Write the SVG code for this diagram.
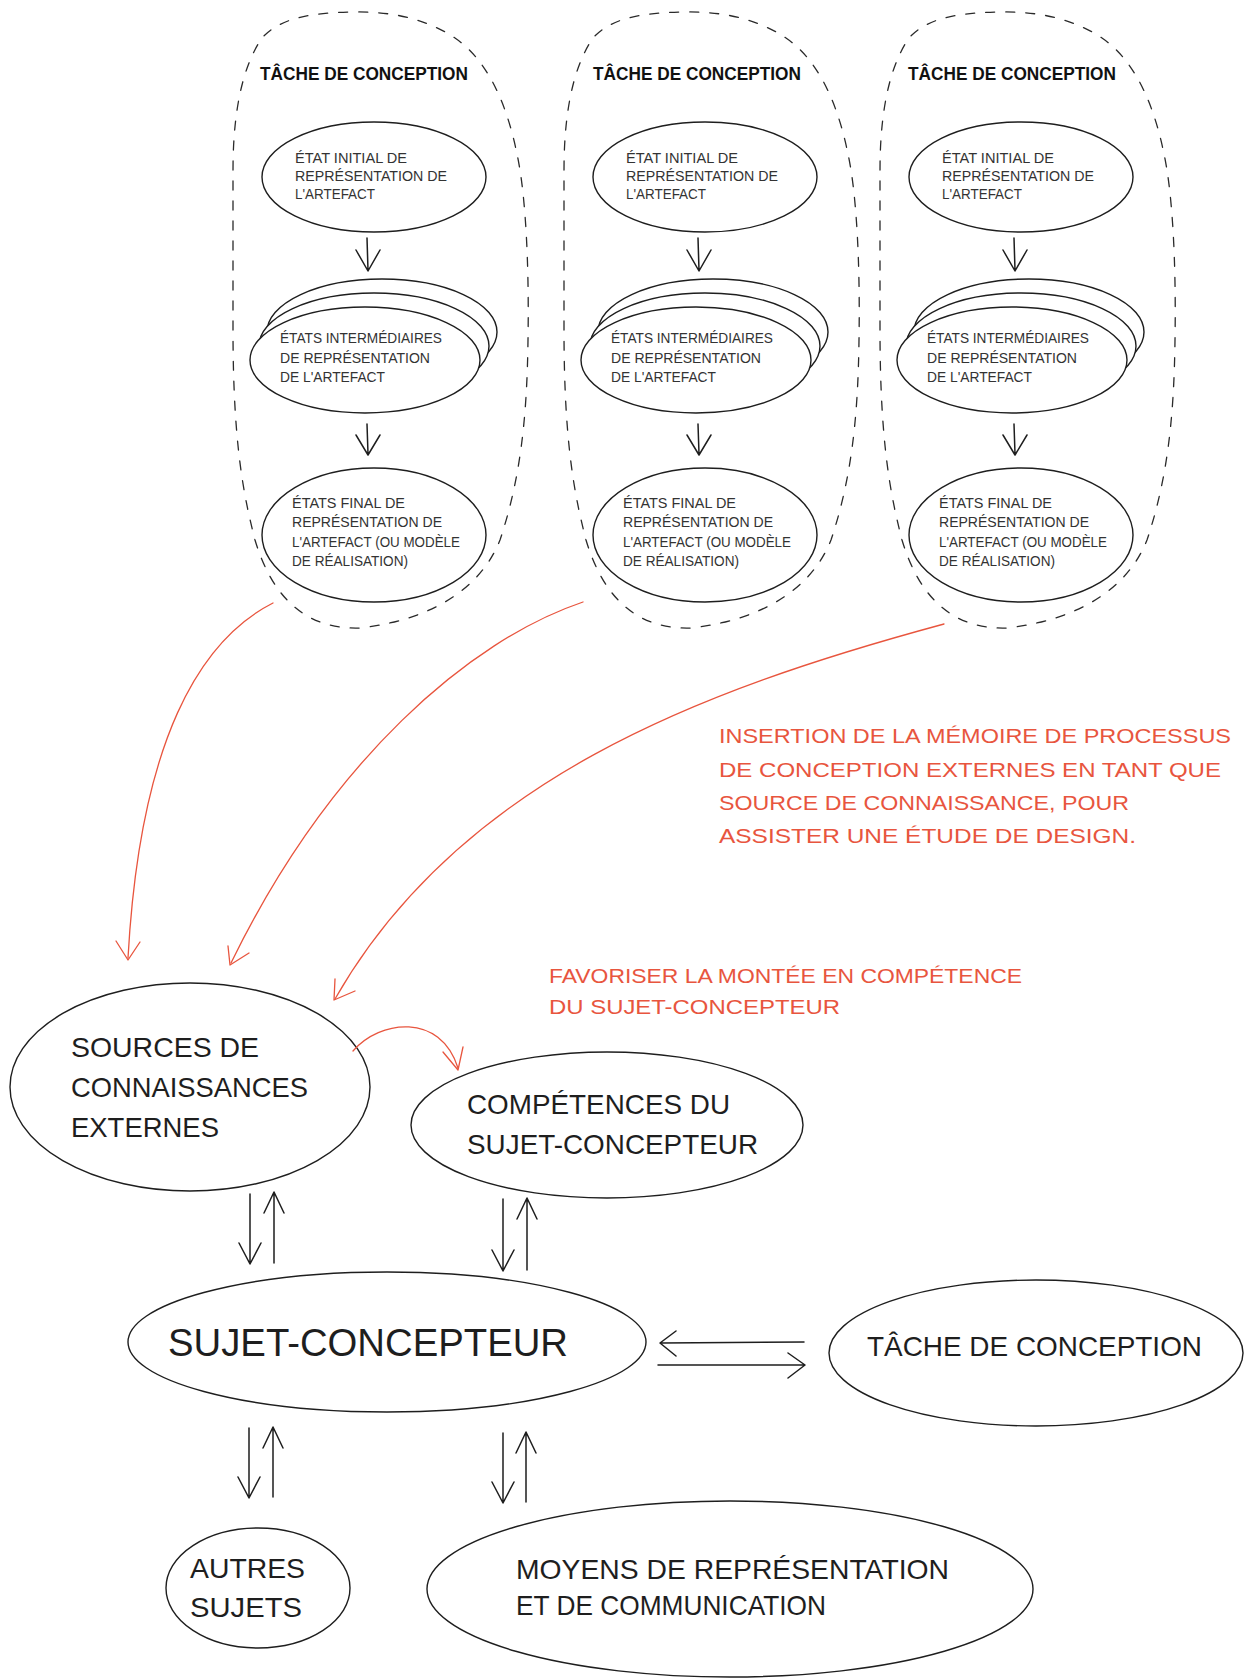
<svg xmlns="http://www.w3.org/2000/svg" width="1244" height="1679" viewBox="0 0 1244 1679">
<style>
.bg{fill:#ffffff}
.dash{fill:none;stroke:#2a2a2a;stroke-width:1.3;stroke-dasharray:9 11;stroke-linecap:round}
.nd{fill:#ffffff;stroke:#1e1e1e;stroke-width:1.4}
.sm{font-family:'Liberation Sans',Arial,sans-serif;font-size:14px;fill:#333333}
.ttl{font-family:'Liberation Sans',Arial,sans-serif;font-size:18px;font-weight:bold;fill:#111111}
.big{font-family:'Liberation Sans',Arial,sans-serif;font-size:28px;fill:#1e1e1e}
.huge{font-family:'Liberation Sans',Arial,sans-serif;font-size:38px;fill:#1e1e1e}
.rt{font-family:'Liberation Sans',Arial,sans-serif;font-size:21px;fill:#e8553e}
.ln{fill:none;stroke:#1e1e1e;stroke-width:1.5;stroke-linecap:round;stroke-linejoin:round}
.rl{fill:none;stroke:#e8553e;stroke-width:1.3;stroke-linecap:round;stroke-linejoin:round}
</style>
<rect class="bg" x="0" y="0" width="1244" height="1679"/>

<!-- Task containers -->
<g id="task1">
  <path class="dash" d="M233,330 L233,170 C233,120 240,70 262,38 C280,18 310,13 350,12 C390,11 425,18 455,38 C490,62 510,110 520,170 C527,215 529,280 528,340 C527,420 520,480 500,540 C480,590 430,620 360,628 C300,630 270,590 255,540 C245,500 233,450 233,330 Z"/>
  <text class="ttl" x="260" y="80" textLength="208" lengthAdjust="spacingAndGlyphs">TÂCHE DE CONCEPTION</text>
  <g id="task1-initial">
    <ellipse class="nd" cx="374" cy="177" rx="112" ry="55"/>
    <text class="sm" x="295" y="163" textLength="112" lengthAdjust="spacingAndGlyphs">ÉTAT INITIAL DE</text>
    <text class="sm" x="295" y="181" textLength="152" lengthAdjust="spacingAndGlyphs">REPRÉSENTATION DE</text>
    <text class="sm" x="295" y="199" textLength="80" lengthAdjust="spacingAndGlyphs">L'ARTEFACT</text>
  </g>
  <g id="task1-intermediate">
    <ellipse class="nd" cx="382" cy="332" rx="115" ry="53"/>
    <ellipse class="nd" cx="374" cy="346" rx="115" ry="53"/>
    <ellipse class="nd" cx="365" cy="360" rx="115" ry="53"/>
    <text class="sm" x="280" y="343" textLength="162" lengthAdjust="spacingAndGlyphs">ÉTATS INTERMÉDIAIRES</text>
    <text class="sm" x="280" y="363" textLength="150" lengthAdjust="spacingAndGlyphs">DE REPRÉSENTATION</text>
    <text class="sm" x="280" y="382" textLength="105" lengthAdjust="spacingAndGlyphs">DE L'ARTEFACT</text>
  </g>
  <g id="task1-final">
    <ellipse class="nd" cx="374" cy="535" rx="112" ry="67"/>
    <text class="sm" x="292" y="508" textLength="113" lengthAdjust="spacingAndGlyphs">ÉTATS FINAL DE</text>
    <text class="sm" x="292" y="527" textLength="150" lengthAdjust="spacingAndGlyphs">REPRÉSENTATION DE</text>
    <text class="sm" x="292" y="547" textLength="168" lengthAdjust="spacingAndGlyphs">L'ARTEFACT (OU MODÈLE</text>
    <text class="sm" x="292" y="566" textLength="116" lengthAdjust="spacingAndGlyphs">DE RÉALISATION)</text>
  </g>
</g>

<g id="task2" transform="translate(331,0)">
  <path class="dash" d="M233,330 L233,170 C233,120 240,70 262,38 C280,18 310,13 350,12 C390,11 425,18 455,38 C490,62 510,110 520,170 C527,215 529,280 528,340 C527,420 520,480 500,540 C480,590 430,620 360,628 C300,630 270,590 255,540 C245,500 233,450 233,330 Z"/>
  <text class="ttl" x="262" y="80" textLength="208" lengthAdjust="spacingAndGlyphs">TÂCHE DE CONCEPTION</text>
  <g id="task2-initial">
    <ellipse class="nd" cx="374" cy="177" rx="112" ry="55"/>
    <text class="sm" x="295" y="163" textLength="112" lengthAdjust="spacingAndGlyphs">ÉTAT INITIAL DE</text>
    <text class="sm" x="295" y="181" textLength="152" lengthAdjust="spacingAndGlyphs">REPRÉSENTATION DE</text>
    <text class="sm" x="295" y="199" textLength="80" lengthAdjust="spacingAndGlyphs">L'ARTEFACT</text>
  </g>
  <g id="task2-intermediate">
    <ellipse class="nd" cx="382" cy="332" rx="115" ry="53"/>
    <ellipse class="nd" cx="374" cy="346" rx="115" ry="53"/>
    <ellipse class="nd" cx="365" cy="360" rx="115" ry="53"/>
    <text class="sm" x="280" y="343" textLength="162" lengthAdjust="spacingAndGlyphs">ÉTATS INTERMÉDIAIRES</text>
    <text class="sm" x="280" y="363" textLength="150" lengthAdjust="spacingAndGlyphs">DE REPRÉSENTATION</text>
    <text class="sm" x="280" y="382" textLength="105" lengthAdjust="spacingAndGlyphs">DE L'ARTEFACT</text>
  </g>
  <g id="task2-final">
    <ellipse class="nd" cx="374" cy="535" rx="112" ry="67"/>
    <text class="sm" x="292" y="508" textLength="113" lengthAdjust="spacingAndGlyphs">ÉTATS FINAL DE</text>
    <text class="sm" x="292" y="527" textLength="150" lengthAdjust="spacingAndGlyphs">REPRÉSENTATION DE</text>
    <text class="sm" x="292" y="547" textLength="168" lengthAdjust="spacingAndGlyphs">L'ARTEFACT (OU MODÈLE</text>
    <text class="sm" x="292" y="566" textLength="116" lengthAdjust="spacingAndGlyphs">DE RÉALISATION)</text>
  </g>
</g>

<g id="task3" transform="translate(647,0)">
  <path class="dash" d="M233,330 L233,170 C233,120 240,70 262,38 C280,18 310,13 350,12 C390,11 425,18 455,38 C490,62 510,110 520,170 C527,215 529,280 528,340 C527,420 520,480 500,540 C480,590 430,620 360,628 C300,630 270,590 255,540 C245,500 233,450 233,330 Z"/>
  <text class="ttl" x="261" y="80" textLength="208" lengthAdjust="spacingAndGlyphs">TÂCHE DE CONCEPTION</text>
  <g id="task3-initial">
    <ellipse class="nd" cx="374" cy="177" rx="112" ry="55"/>
    <text class="sm" x="295" y="163" textLength="112" lengthAdjust="spacingAndGlyphs">ÉTAT INITIAL DE</text>
    <text class="sm" x="295" y="181" textLength="152" lengthAdjust="spacingAndGlyphs">REPRÉSENTATION DE</text>
    <text class="sm" x="295" y="199" textLength="80" lengthAdjust="spacingAndGlyphs">L'ARTEFACT</text>
  </g>
  <g id="task3-intermediate">
    <ellipse class="nd" cx="382" cy="332" rx="115" ry="53"/>
    <ellipse class="nd" cx="374" cy="346" rx="115" ry="53"/>
    <ellipse class="nd" cx="365" cy="360" rx="115" ry="53"/>
    <text class="sm" x="280" y="343" textLength="162" lengthAdjust="spacingAndGlyphs">ÉTATS INTERMÉDIAIRES</text>
    <text class="sm" x="280" y="363" textLength="150" lengthAdjust="spacingAndGlyphs">DE REPRÉSENTATION</text>
    <text class="sm" x="280" y="382" textLength="105" lengthAdjust="spacingAndGlyphs">DE L'ARTEFACT</text>
  </g>
  <g id="task3-final">
    <ellipse class="nd" cx="374" cy="535" rx="112" ry="67"/>
    <text class="sm" x="292" y="508" textLength="113" lengthAdjust="spacingAndGlyphs">ÉTATS FINAL DE</text>
    <text class="sm" x="292" y="527" textLength="150" lengthAdjust="spacingAndGlyphs">REPRÉSENTATION DE</text>
    <text class="sm" x="292" y="547" textLength="168" lengthAdjust="spacingAndGlyphs">L'ARTEFACT (OU MODÈLE</text>
    <text class="sm" x="292" y="566" textLength="116" lengthAdjust="spacingAndGlyphs">DE RÉALISATION)</text>
  </g>
</g>

<!-- Lower nodes -->
<g id="sources">
  <ellipse class="nd" cx="190" cy="1087" rx="180" ry="104"/>
  <text class="big" x="71" y="1057" textLength="188" lengthAdjust="spacingAndGlyphs">SOURCES DE</text>
  <text class="big" x="71" y="1097" textLength="237" lengthAdjust="spacingAndGlyphs">CONNAISSANCES</text>
  <text class="big" x="71" y="1137" textLength="148" lengthAdjust="spacingAndGlyphs">EXTERNES</text>
</g>
<g id="competences">
  <ellipse class="nd" cx="607" cy="1125" rx="196" ry="73"/>
  <text class="big" x="467" y="1114" textLength="263" lengthAdjust="spacingAndGlyphs">COMPÉTENCES DU</text>
  <text class="big" x="467" y="1154" textLength="291" lengthAdjust="spacingAndGlyphs">SUJET-CONCEPTEUR</text>
</g>
<g id="sujet">
  <ellipse class="nd" cx="387" cy="1342" rx="259" ry="70"/>
  <text class="huge" x="168" y="1356" textLength="400" lengthAdjust="spacingAndGlyphs">SUJET-CONCEPTEUR</text>
</g>
<g id="tache">
  <ellipse class="nd" cx="1036" cy="1353" rx="207" ry="73"/>
  <text class="big" x="867" y="1356" textLength="335" lengthAdjust="spacingAndGlyphs">TÂCHE DE CONCEPTION</text>
</g>
<g id="autres">
  <ellipse class="nd" cx="258" cy="1588" rx="92" ry="60"/>
  <text class="big" x="190" y="1578" textLength="115" lengthAdjust="spacingAndGlyphs">AUTRES</text>
  <text class="big" x="190" y="1617" textLength="112" lengthAdjust="spacingAndGlyphs">SUJETS</text>
</g>
<g id="moyens">
  <ellipse class="nd" cx="730" cy="1589" rx="303" ry="88"/>
  <text class="big" x="516" y="1579" textLength="433" lengthAdjust="spacingAndGlyphs">MOYENS DE REPRÉSENTATION</text>
  <text class="big" x="516" y="1615" textLength="310" lengthAdjust="spacingAndGlyphs">ET DE COMMUNICATION</text>
</g>

<!-- Red annotation labels -->
<g id="labels">
  <text class="rt" x="719" y="743" textLength="512" lengthAdjust="spacingAndGlyphs">INSERTION DE LA MÉMOIRE DE PROCESSUS</text>
  <text class="rt" x="719" y="777" textLength="502" lengthAdjust="spacingAndGlyphs">DE CONCEPTION EXTERNES EN TANT QUE</text>
  <text class="rt" x="719" y="810" textLength="410" lengthAdjust="spacingAndGlyphs">SOURCE DE CONNAISSANCE, POUR</text>
  <text class="rt" x="719" y="843" textLength="417" lengthAdjust="spacingAndGlyphs">ASSISTER UNE ÉTUDE DE DESIGN.</text>
  <text class="rt" x="549" y="983" textLength="473" lengthAdjust="spacingAndGlyphs">FAVORISER LA MONTÉE EN COMPÉTENCE</text>
  <text class="rt" x="549" y="1014" textLength="291" lengthAdjust="spacingAndGlyphs">DU SUJET-CONCEPTEUR</text>
</g>

<!-- Connectors -->
<g id="connectors">
  <!-- inside task containers -->
  <path class="ln" d="M367,238 L368,270 M356,250 L368,271 L380,250"/>
  <path class="ln" d="M367,424 L368,454 M356,435 L368,455 L380,435"/>
  <path class="ln" d="M698,238 L699,270 M687,250 L699,271 L711,250"/>
  <path class="ln" d="M698,424 L699,454 M687,435 L699,455 L711,435"/>
  <path class="ln" d="M1014,238 L1015,270 M1003,250 L1015,271 L1027,250"/>
  <path class="ln" d="M1014,424 L1015,454 M1003,435 L1015,455 L1027,435"/>

  <!-- red arrows -->
  <path class="rl" d="M273,603 C200,640 140,740 128,958"/>
  <path class="rl" d="M116,941 L128,960 L140,942"/>
  <path class="rl" d="M583,602 C470,640 330,760 231,963"/>
  <path class="rl" d="M228,946 L230,965 L249,953"/>
  <path class="rl" d="M944,624 C700,690 460,780 335,999"/>
  <path class="rl" d="M335,979 L334,1000 L355,991"/>
  <path class="rl" d="M353,1051 C380,1020 440,1012 458,1068"/>
  <path class="rl" d="M443,1052 L458,1070 L463,1047"/>

  <!-- sources <-> sujet -->
  <path class="ln" d="M250,1194 L250,1263 M239,1243 L250,1264 L261,1243"/>
  <path class="ln" d="M274,1263 L274,1193 M264,1213 L274,1192 L284,1213"/>
  <!-- competences <-> sujet -->
  <path class="ln" d="M503,1199 L503,1270 M492,1250 L503,1271 L514,1250"/>
  <path class="ln" d="M527,1270 L527,1199 M517,1219 L527,1198 L537,1219"/>
  <!-- sujet <-> tache -->
  <path class="ln" d="M804,1342 L662,1343 M676,1331 L660,1343 L676,1356"/>
  <path class="ln" d="M658,1365 L804,1365 M788,1353 L805,1365 L788,1378"/>
  <!-- sujet <-> autres -->
  <path class="ln" d="M249,1428 L249,1497 M238,1477 L249,1498 L260,1477"/>
  <path class="ln" d="M273,1497 L273,1428 M263,1448 L273,1427 L283,1448"/>
  <!-- sujet <-> moyens -->
  <path class="ln" d="M503,1433 L503,1502 M492,1482 L503,1503 L514,1482"/>
  <path class="ln" d="M526,1502 L526,1433 M516,1453 L526,1432 L536,1453"/>
</g>
</svg>
